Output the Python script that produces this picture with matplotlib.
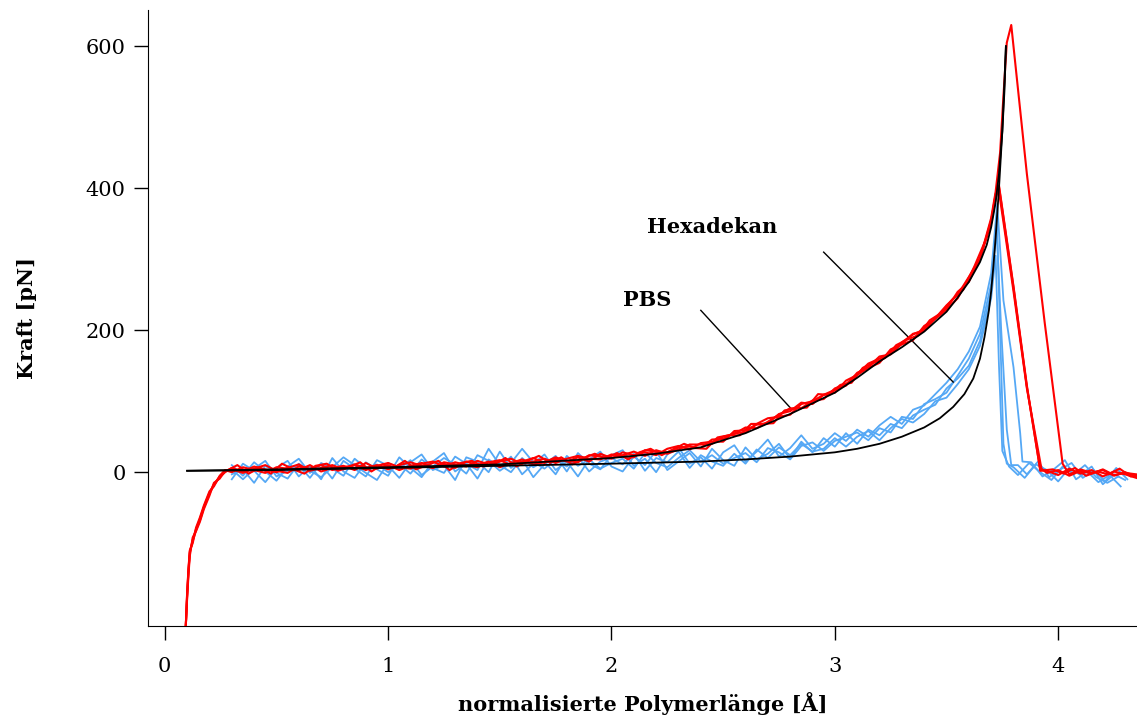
import numpy as np
import matplotlib
matplotlib.use("Agg")
import matplotlib.pyplot as plt

# ---------------- data ----------------
grid_x = np.round(np.arange(0.30, 3.7001, 0.05), 2)        # 69 sample positions
half_x = np.round(np.arange(0.325, 3.6751, 0.05), 3)       # 68 sample positions

# red (PBS) traces
red_1 = [6, 1, 8, 4, 0, 6, 11, 2, 6, 10, 4, 11, 6, 10, 4, 10, 14, 9, 6, 14, 11, 8, 16, 11, 15,
         19, 12, 15, 19, 13, 19, 23, 19, 18, 25, 23, 21, 31, 29, 28, 35, 36, 34, 46, 47, 55, 56,
         68, 76, 78, 81, 96, 100, 109, 112, 129, 137, 147, 154, 173, 180, 186, 206, 216, 229,
         245, 274, 300, 355]
red_2 = [0, 7, 3, -1, 7, 5, 3, 10, 1, 6, 9, 3, 13, 5, 10, 3, 9, 13, 6, 12, 6, 15, 10, 15, 7,
         13, 18, 11, 14, 21, 15, 21, 15, 26, 20, 24, 29, 23, 31, 26, 32, 39, 39, 40, 50, 54, 63,
         62, 71, 81, 90, 90, 101, 103, 118, 124, 138, 153, 160, 167, 183, 194, 201, 217, 235,
         250, 275, 301, 358]
red_3 = [4, -1, 5, 10, 2, -1, 8, 5, 10, 3, 7, 10, 3, 9, 13, 7, 5, 12, 15, 8, 14, 10, 7, 14, 17,
         10, 15, 20, 13, 19, 16, 14, 24, 22, 19, 28, 24, 28, 24, 33, 37, 32, 41, 43, 43, 58, 59,
         67, 69, 82, 86, 98, 96, 109, 116, 122, 140, 148, 163, 166, 181, 195, 199, 217, 230,
         254, 268, 302, 351]
red_4 = [10, -2, 6, -2, 12, 4, -2, 9, 12, 2, 7, 14, 1, 11, 6, 16, 4, 10, 16, 3, 13, 16, 8, 11,
         20, 8, 16, 23, 13, 21, 11, 20, 26, 19, 27, 18, 28, 33, 24, 32, 40, 34, 33, 49, 52, 52,
         68, 68, 69, 87, 90, 91, 110, 109, 123, 126, 147, 154, 161, 179, 187, 193, 214, 224,
         243, 257, 290, 327]

# red initial rise (before the grid)
rise_x = [0.094, 0.100, 0.106, 0.112, 0.125, 0.140, 0.157, 0.175, 0.200, 0.220, 0.246, 0.270]
rise_1 = [-217, -175, -140, -114, -95, -80, -68, -50, -30, -18, -7, 0]
rise_2 = [-217, -170, -136, -110, -100, -78, -64, -47, -27, -20, -5, 3]
rise_3 = [-217, -178, -145, -118, -92, -83, -70, -52, -33, -15, -9, 2]
rise_4 = [-217, -172, -138, -112, -97, -82, -66, -49, -29, -17, -6, 1]

# red peaks / rupture
peak_x_1 = [3.72, 3.735, 3.80, 3.86, 3.92]
peak_y_1 = [390, 402, 260, 120, 3]
peak_x_2 = [3.72, 3.74, 3.755, 3.77, 3.79, 3.86, 3.94, 4.02]
peak_y_2 = [395, 450, 530, 605, 630, 420, 210, 12]
peak_x_3 = [3.72, 3.733, 3.80, 3.86, 3.925]
peak_y_3 = [385, 400, 255, 118, 5]
peak_x_4 = [3.70, 3.72, 3.735, 3.80, 3.86, 3.92]
peak_y_4 = [352, 392, 404, 262, 122, 2]

# red tails after rupture
tail_x_1 = [3.95, 4.00, 4.05, 4.10, 4.15, 4.20, 4.25, 4.30, 4.35]
tail_1 = [2, -4, 5, -2, 3, -6, 1, -3, -8]
tail_x_2 = [4.05, 4.10, 4.15, 4.20, 4.25, 4.30, 4.35]
tail_2 = [-3, 4, -1, 3, -5, 0, -6]
tail_x_3 = [3.95, 4.00, 4.05, 4.10, 4.15, 4.20, 4.25, 4.30, 4.35]
tail_3 = [-1, 3, -5, 2, -2, 4, -4, -1, -3]
tail_x_4 = [3.975, 4.025, 4.075, 4.125, 4.175, 4.225, 4.275, 4.325, 4.36]
tail_4 = [4, -2, 6, -5, 1, -3, 5, -6, -4]

# blue (Hexadekan) traces on the grid
blue_1 = [-10, 12, 2, -14, 6, 16, -6, 9, -10, 20, 1, -8, 14, 4, -5,
          21, 6, -7, 15, 27, 1, 12, -9, 18, 7, 22, -3, 12, 25, 3, 15, -6, 18, 29, 8,
          1, 22, 10, 30, 3, 15, 27, 8, 33, 17,
          9, 35, 18, 26, 40, 19, 43, 28, 48, 36,
          55, 40, 60, 52, 68, 62, 80, 88, 95, 118,
          132, 150, 185, 255]
blue_2 = [10, -5, 14, 1, -12, 8, 19, -1, 11, -9, 16, 5, -6, 17, 9,
          -8, 14, 25, 3, 10, -11, 21, 15, 0, 29, 6, 18, -7, 11, 23, 1, 27, 12, 4, 24,
          31, 9, 19, 0, 25, 35, 12, 21, 5, 28,
          38, 15, 29, 46, 22, 34, 52, 33, 40, 55,
          44, 60, 50, 66, 78, 68, 88, 94, 110, 126,
          145, 170, 205, 280]
blue_3 = [-3, 4, -15, 9, -1, -9, 12, 2, -7, 7, 21, 10, -1, -11, 13,
          5, 17, -4, 8, 20, 11, -2, 24, 16, 2, 13, 33, 14, 5, 18, 8, 22, 1, 15, 20,
          11, 26, 2, 20, 14, 29, 6, 24, 15, 9,
          26, 12, 32, 20, 35, 24, 40, 29, 33, 48,
          36, 50, 58, 45, 62, 75, 70, 82, 100, 105,
          124, 145, 178, 245]
blue_4 = [4, -10, 5, 16, -6, 2, 10, -8, 13, 5, -5, 19, 6, 11, 0,
          11, -2, 18, 6, -1, 22, 12, 3, 33, 10, 0, 20, 7, 15, -3, 23, 9, 18, 5, 13,
          19, 5, 27, 13, 7, 20, 31, 15, 24, 12,
          20, 27, 14, 34, 28, 18, 37, 42, 30, 44,
          50, 56, 45, 62, 56, 78, 75, 96, 103, 112,
          136, 160, 195, 265]

# blue peaks / rupture
bpeak_x_1 = [3.725, 3.74, 3.755, 3.77]
bpeak_y_1 = [360, 200, 40, 12]
bpeak_x_2 = [3.727, 3.755, 3.80, 3.83, 3.84]
bpeak_y_2 = [378, 242, 148, 55, 15]
bpeak_x_3 = [3.72, 3.735, 3.75, 3.78]
bpeak_y_3 = [305, 150, 30, 8]
bpeak_x_4 = [3.725, 3.745, 3.77, 3.79]
bpeak_y_4 = [340, 200, 60, 10]

# blue tails
btail_x_1 = [3.80, 3.85, 3.90, 3.95, 4.00, 4.05, 4.10, 4.15, 4.20, 4.25, 4.30]
btail_1 = [7, -8, 11, 3, -13, 6, -4, 8, -17, -3, -11]
btail_x_2 = [3.88, 3.93, 3.98, 4.03, 4.08, 4.13, 4.18, 4.23, 4.28]
btail_2 = [14, -6, 4, 17, -10, 1, -14, -4, -20]
btail_x_3 = [3.82, 3.87, 3.92, 3.97, 4.02, 4.07, 4.12, 4.17, 4.22, 4.27]
btail_3 = [-4, 13, 0, -11, 8, -3, 10, -7, -15, -6]
btail_x_4 = [3.82, 3.86, 3.91, 3.96, 4.01, 4.06, 4.11, 4.16, 4.21, 4.26, 4.31]
btail_4 = [10, -3, 15, -7, 4, 13, -8, 3, -13, 6, -10]

# fitted curves (black)
fit_pbs_x = [0.10, 0.5, 1.0, 1.5, 2.0, 2.2, 2.4, 2.6, 2.8, 3.0, 3.1, 3.2, 3.3, 3.4, 3.5, 3.55,
             3.6, 3.65, 3.68, 3.70, 3.72, 3.735, 3.75, 3.76, 3.766]
fit_pbs_y = [2, 4, 7, 11, 20, 26, 35, 55, 82, 112, 133, 156, 176, 198, 226, 246,
             268, 296, 320, 345, 380, 420, 480, 540, 600]
fit_hex_x = [0.10, 0.5, 1.0, 1.5, 2.0, 2.4, 2.6, 2.8, 3.0, 3.1, 3.2, 3.3, 3.4, 3.47, 3.53,
             3.58, 3.62, 3.65, 3.67, 3.69, 3.70, 3.71, 3.72, 3.735, 3.75, 3.766]
fit_hex_y = [2, 3, 6, 9, 12, 15, 18, 22, 28, 33, 40, 50, 63, 76, 92,
             110, 132, 160, 190, 228, 255, 290, 330, 400, 480, 600]

x_ticks = [0, 1, 2, 3, 4]
y_ticks = [0, 200, 400, 600]
labels = {"PBS": (2.16, 242), "Hexadekan": (2.45, 346)}
pointer_pbs = ([2.40, 2.80], [228, 91])
pointer_hex = ([2.95, 3.53], [310, 127])

# ---------------- plot ----------------
plt.rcParams['font.family'] = ['DejaVu Serif']
fig = plt.figure(figsize=(11.37, 7.19), dpi=100)
ax = fig.add_axes([0.130, 0.129, 0.870, 0.857])

RED = '#ff0000'
BLUE = '#55a8f5'

for bx, px, py, tx, ty in [
    (blue_1, bpeak_x_1, bpeak_y_1, btail_x_1, btail_1),
    (blue_2, bpeak_x_2, bpeak_y_2, btail_x_2, btail_2),
    (blue_3, bpeak_x_3, bpeak_y_3, btail_x_3, btail_3),
    (blue_4, bpeak_x_4, bpeak_y_4, btail_x_4, btail_4)]:
    xs = list(grid_x) + px + tx
    ys = bx + py + ty
    ax.plot(xs, ys, color=BLUE, lw=1.3, zorder=2)

for gx, tr, rs, px, py, tx, ty in [
    (grid_x, red_1, rise_1, peak_x_1, peak_y_1, tail_x_1, tail_1),
    (grid_x, red_2, rise_2, peak_x_2, peak_y_2, tail_x_2, tail_2),
    (grid_x, red_3, rise_3, peak_x_3, peak_y_3, tail_x_3, tail_3),
    (half_x, red_4, rise_4, peak_x_4, peak_y_4, tail_x_4, tail_4)]:
    xs = rise_x + list(gx) + px + tx
    ys = rs + tr + py + ty
    ax.plot(xs, ys, color=RED, lw=1.5, zorder=3)

ax.plot(fit_pbs_x, fit_pbs_y, color='black', lw=1.3, zorder=4)
ax.plot(fit_hex_x, fit_hex_y, color='black', lw=1.3, zorder=4)

ax.plot(*pointer_pbs, color='black', lw=1.0)
ax.plot(*pointer_hex, color='black', lw=1.0)
for txt, (lx, ly) in labels.items():
    ax.text(lx, ly, txt, fontsize=15, fontweight='bold', ha='center', va='center')

ax.set_xlim(-0.076, 4.353)
ax.set_ylim(-217, 651)
ax.set_xticks(x_ticks)
ax.set_yticks(y_ticks)
ax.spines['top'].set_visible(False)
ax.spines['right'].set_visible(False)
ax.tick_params(axis='both', direction='out', length=10, width=1.0, labelsize=15)
ax.tick_params(axis='x', pad=12)
ax.tick_params(axis='y', pad=6)
ax.set_xlabel('normalisierte Polymerlänge [Å]', fontsize=15, fontweight='bold', labelpad=12)
ax.set_ylabel('Kraft [pN]', fontsize=15, fontweight='bold', labelpad=35)

fig.savefig('out.png', dpi=100)
